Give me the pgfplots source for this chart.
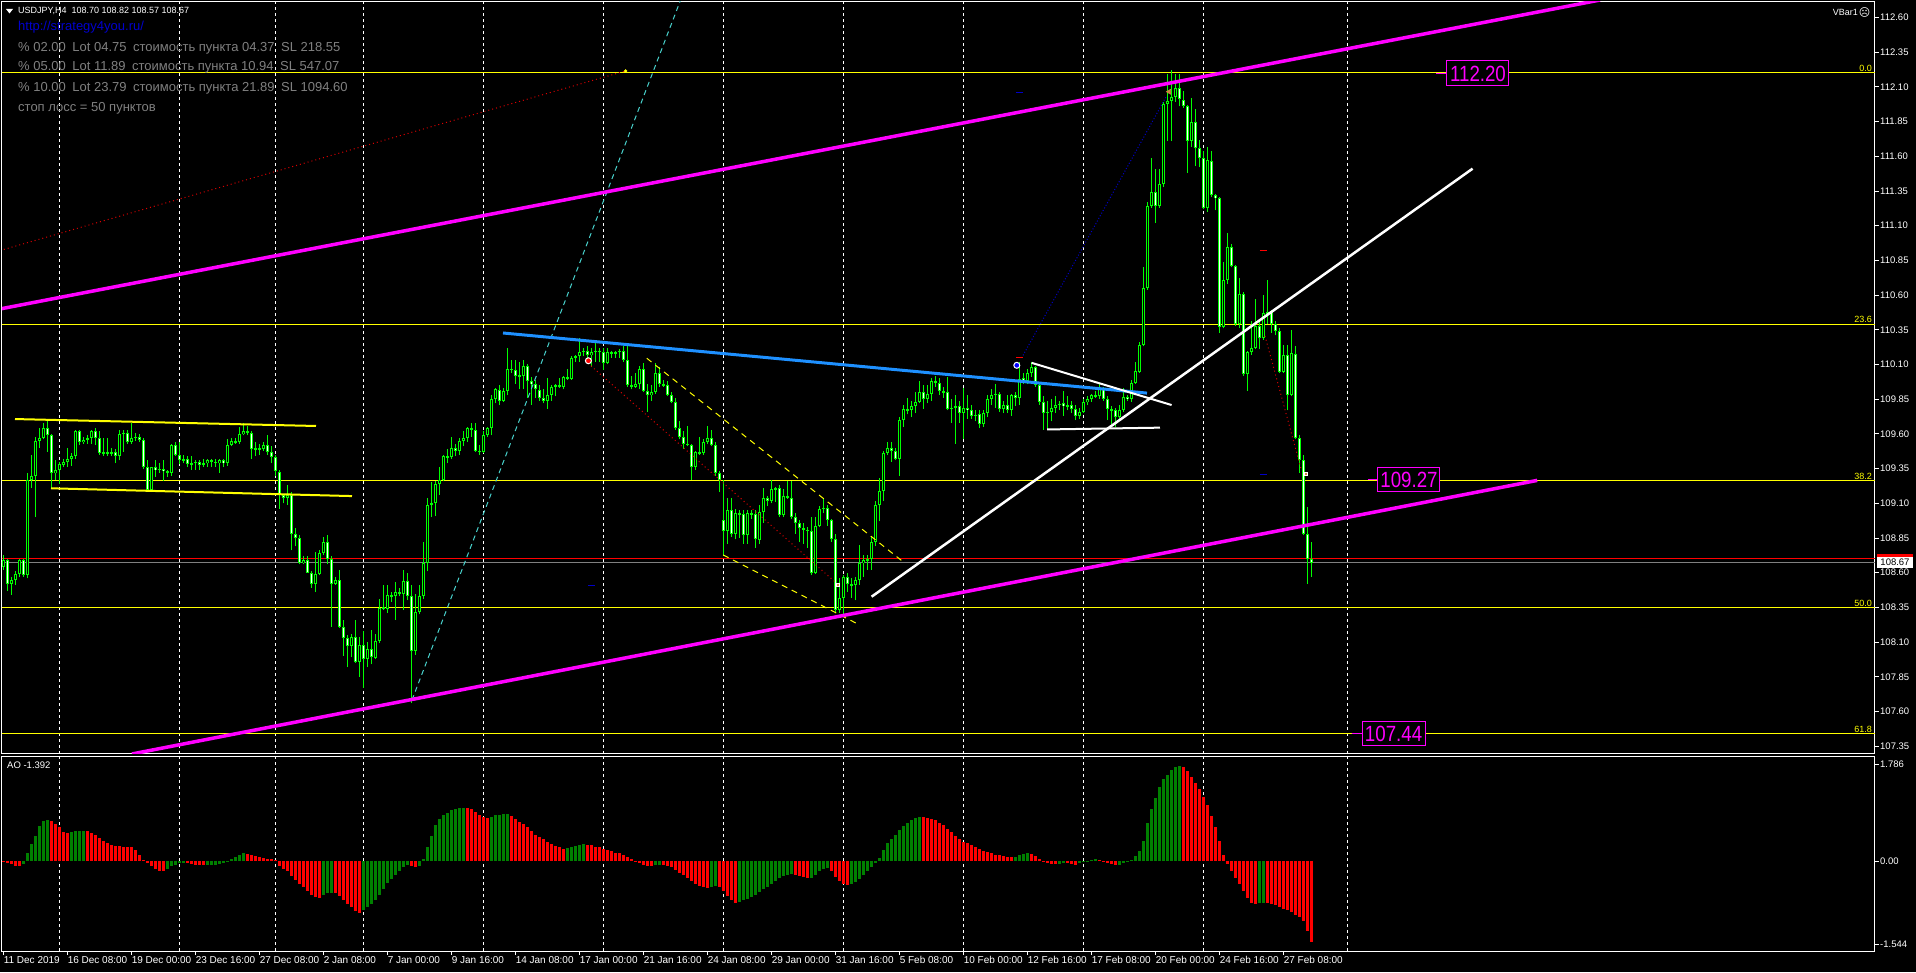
\documentclass[border=0pt]{standalone}
\usepackage{fontspec}
\setmainfont{Liberation Sans}
\newfontfamily\djv{DejaVu Sans}
\newfontfamily\narrowfont[FakeStretch=0.85]{Liberation Sans}
\usepackage{pgfplots}
\usepackage{pgfplotstable}
\pgfplotsset{compat=1.18}
\definecolor{mtlime}{RGB}{0,255,0}
\definecolor{aogreen}{RGB}{0,128,0}
\definecolor{aored}{RGB}{255,0,0}
\definecolor{mag}{RGB}{255,0,255}
\definecolor{fibyel}{RGB}{255,255,0}
\definecolor{dblue}{RGB}{30,144,255}
\definecolor{cyanl}{RGB}{72,209,204}
\definecolor{infogrey}{RGB}{128,128,128}
\definecolor{urlblue}{RGB}{0,0,205}
\definecolor{navyd}{RGB}{0,0,200}
\definecolor{dotred}{RGB}{220,0,0}
\definecolor{mkorange}{RGB}{205,133,63}
\newcommand\fs[1]{\fontsize{#1}{#1}\selectfont}

\pgfplotstableread{
i o h l c
0 108.64 108.73 108.62 108.69
1 108.69 108.70 108.47 108.52
2 108.52 108.57 108.44 108.55
3 108.55 108.61 108.51 108.59
4 108.59 108.70 108.57 108.69
5 108.69 108.70 108.57 108.58
6 108.58 109.32 108.56 109.27
7 109.27 109.45 109.21 109.30
8 109.30 109.58 109.00 109.55
9 109.55 109.64 109.50 109.57
10 109.57 109.68 109.56 109.64
11 109.64 109.70 109.47 109.59
12 109.59 109.60 109.21 109.32
13 109.32 109.41 109.27 109.34
14 109.34 109.40 109.24 109.38
15 109.38 109.42 109.36 109.40
16 109.40 109.50 109.36 109.42
17 109.42 109.46 109.37 109.44
18 109.44 109.63 109.42 109.62
19 109.62 109.63 109.52 109.54
20 109.54 109.58 109.53 109.56
21 109.56 109.59 109.53 109.57
22 109.57 109.63 109.53 109.62
23 109.62 109.64 109.52 109.57
24 109.57 109.62 109.45 109.46
25 109.46 109.57 109.44 109.47
26 109.47 109.57 109.44 109.46
27 109.46 109.50 109.44 109.47
28 109.47 109.49 109.39 109.44
29 109.44 109.63 109.41 109.60
30 109.60 109.63 109.47 109.61
31 109.61 109.63 109.53 109.54
32 109.54 109.68 109.53 109.57
33 109.57 109.61 109.55 109.58
34 109.58 109.60 109.54 109.56
35 109.56 109.57 109.35 109.36
36 109.36 109.41 109.20 109.20
37 109.20 109.36 109.18 109.36
38 109.36 109.41 109.29 109.34
39 109.34 109.39 109.32 109.35
40 109.35 109.41 109.26 109.33
41 109.33 109.34 109.29 109.32
42 109.32 109.53 109.30 109.52
43 109.52 109.54 109.44 109.45
44 109.45 109.54 109.38 109.41
45 109.41 109.45 109.39 109.42
46 109.42 109.44 109.36 109.38
47 109.38 109.44 109.34 109.39
48 109.39 109.41 109.34 109.40
49 109.40 109.41 109.34 109.38
50 109.38 109.42 109.36 109.39
51 109.39 109.42 109.36 109.41
52 109.41 109.42 109.36 109.40
53 109.40 109.42 109.36 109.39
54 109.39 109.42 109.32 109.41
55 109.41 109.42 109.36 109.39
56 109.39 109.56 109.37 109.52
57 109.52 109.57 109.51 109.55
58 109.55 109.57 109.53 109.54
59 109.54 109.65 109.53 109.60
60 109.60 109.68 109.59 109.62
61 109.62 109.66 109.59 109.61
62 109.61 109.62 109.42 109.49
63 109.49 109.54 109.44 109.50
64 109.50 109.53 109.45 109.49
65 109.49 109.54 109.48 109.52
66 109.52 109.59 109.45 109.47
67 109.47 109.51 109.39 109.43
68 109.43 109.45 109.30 109.33
69 109.33 109.34 109.06 109.16
70 109.16 109.17 109.10 109.14
71 109.14 109.23 109.09 109.16
72 109.16 109.18 108.76 108.88
73 108.88 108.92 108.79 108.85
74 108.85 108.87 108.66 108.67
75 108.67 108.72 108.66 108.69
76 108.69 108.72 108.60 108.60
77 108.60 108.61 108.49 108.52
78 108.52 108.75 108.46 108.59
79 108.59 108.76 108.58 108.74
80 108.74 108.86 108.73 108.82
81 108.82 108.87 108.66 108.70
82 108.70 108.72 108.21 108.52
83 108.52 108.57 108.51 108.55
84 108.55 108.62 108.20 108.21
85 108.21 108.26 108.00 108.13
86 108.13 108.15 107.92 108.07
87 108.07 108.16 107.99 108.14
88 108.14 108.26 107.95 107.96
89 107.96 108.14 107.85 108.08
90 108.08 108.18 107.77 107.98
91 107.98 108.10 107.92 108.05
92 108.05 108.19 107.94 107.99
93 107.99 108.16 107.98 108.11
94 108.11 108.41 108.09 108.35
95 108.35 108.51 108.33 108.34
96 108.34 108.51 108.31 108.44
97 108.44 108.46 108.39 108.43
98 108.43 108.53 108.26 108.46
99 108.46 108.49 108.43 108.45
100 108.45 108.62 108.33 108.54
101 108.54 108.60 108.40 108.43
102 108.43 108.51 107.66 108.04
103 108.04 108.45 108.01 108.32
104 108.32 108.51 108.30 108.43
105 108.43 108.82 108.41 108.67
106 108.67 109.14 108.61 109.09
107 109.09 109.25 109.00 109.10
108 109.10 109.26 109.01 109.24
109 109.24 109.36 109.16 109.27
110 109.27 109.45 109.26 109.44
111 109.44 109.49 109.39 109.43
112 109.43 109.58 109.42 109.50
113 109.50 109.53 109.44 109.48
114 109.48 109.57 109.45 109.55
115 109.55 109.62 109.51 109.57
116 109.57 109.65 109.54 109.64
117 109.64 109.68 109.58 109.63
118 109.63 109.68 109.47 109.48
119 109.48 109.52 109.45 109.47
120 109.47 109.62 109.46 109.59
121 109.59 109.65 109.58 109.64
122 109.64 109.88 109.59 109.85
123 109.85 109.93 109.82 109.92
124 109.92 109.95 109.81 109.84
125 109.84 109.93 109.83 109.91
126 109.91 110.22 109.88 110.07
127 110.07 110.13 110.04 110.06
128 110.06 110.13 109.96 110.02
129 110.02 110.12 109.92 110.02
130 110.02 110.13 109.92 110.09
131 110.09 110.10 109.86 109.98
132 109.98 110.01 109.81 109.96
133 109.96 109.99 109.86 109.92
134 109.92 109.95 109.84 109.86
135 109.86 109.92 109.82 109.84
136 109.84 110.00 109.78 109.88
137 109.88 109.95 109.84 109.94
138 109.94 109.96 109.87 109.95
139 109.95 110.00 109.93 109.94
140 109.94 110.02 109.92 110.01
141 110.01 110.07 109.99 110.00
142 110.00 110.16 109.99 110.15
143 110.15 110.17 110.12 110.16
144 110.16 110.29 110.12 110.19
145 110.19 110.22 110.16 110.20
146 110.20 110.23 110.12 110.17
147 110.17 110.22 110.08 110.19
148 110.19 110.26 110.12 110.20
149 110.20 110.22 110.12 110.19
150 110.19 110.22 110.06 110.11
151 110.11 110.22 110.10 110.19
152 110.19 110.20 110.15 110.18
153 110.18 110.20 110.15 110.19
154 110.19 110.21 110.15 110.20
155 110.20 110.23 110.12 110.13
156 110.13 110.23 109.94 109.95
157 109.95 110.02 109.92 109.94
158 109.94 110.04 109.93 109.96
159 109.96 110.09 109.92 110.07
160 110.07 110.11 109.90 109.91
161 109.91 109.96 109.76 109.88
162 109.88 109.95 109.84 109.90
163 109.90 110.11 109.89 110.04
164 110.04 110.08 109.94 109.96
165 109.96 109.99 109.94 109.95
166 109.95 109.98 109.87 109.88
167 109.88 109.90 109.82 109.83
168 109.83 109.86 109.63 109.64
169 109.64 109.69 109.56 109.58
170 109.58 109.62 109.49 109.53
171 109.53 109.66 109.51 109.52
172 109.52 109.53 109.27 109.36
173 109.36 109.48 109.34 109.47
174 109.47 109.58 109.45 109.46
175 109.46 109.56 109.45 109.54
176 109.54 109.66 109.53 109.57
177 109.57 109.63 109.51 109.52
178 109.52 109.54 109.30 109.32
179 109.32 109.33 109.18 109.27
180 108.98 109.27 108.72 108.90
181 108.90 109.14 108.81 109.05
182 109.05 109.14 108.86 108.88
183 108.88 109.06 108.84 109.03
184 109.03 109.05 108.85 109.02
185 109.02 109.05 108.81 108.87
186 108.87 109.05 108.81 109.03
187 109.03 109.05 108.99 109.02
188 109.02 109.05 108.78 108.84
189 108.84 109.09 108.81 109.04
190 109.04 109.21 108.96 109.14
191 109.14 109.15 109.08 109.12
192 109.12 109.27 109.10 109.20
193 109.20 109.22 109.11 109.21
194 109.21 109.23 109.00 109.02
195 109.02 109.20 109.00 109.15
196 109.15 109.26 109.13 109.14
197 109.14 109.26 108.99 109.00
198 109.00 109.03 108.88 108.96
199 108.96 108.98 108.82 108.92
200 108.92 108.96 108.81 108.91
201 108.91 108.93 108.78 108.90
202 108.90 109.00 108.58 108.60
203 108.60 109.00 108.59 108.94
204 108.94 109.08 108.93 109.06
205 109.06 109.14 109.03 109.07
206 109.07 109.09 108.94 108.98
207 108.98 108.99 108.82 108.84
208 108.84 108.88 108.31 108.33
209 108.33 108.56 108.31 108.42
210 108.42 108.58 108.28 108.57
211 108.57 108.60 108.46 108.52
212 108.52 108.56 108.42 108.51
213 108.51 108.57 108.40 108.55
214 108.55 108.80 108.51 108.67
215 108.67 108.73 108.57 108.69
216 108.69 108.73 108.62 108.70
217 108.70 108.86 108.62 108.82
218 108.82 109.12 108.79 109.09
219 109.09 109.28 108.97 109.19
220 109.19 109.48 109.12 109.46
221 109.46 109.54 109.45 109.50
222 109.50 109.54 109.40 109.48
223 109.48 109.50 109.41 109.42
224 109.42 109.72 109.30 109.70
225 109.70 109.81 109.65 109.78
226 109.78 109.86 109.74 109.77
227 109.77 109.84 109.72 109.80
228 109.80 109.90 109.75 109.83
229 109.83 109.98 109.82 109.90
230 109.90 109.95 109.78 109.85
231 109.85 109.95 109.82 109.89
232 109.89 110.00 109.84 109.98
233 109.98 110.02 109.94 109.97
234 109.97 110.00 109.88 109.91
235 109.91 109.94 109.86 109.90
236 109.90 110.01 109.77 109.78
237 109.78 109.85 109.68 109.79
238 109.79 109.88 109.53 109.80
239 109.80 109.84 109.68 109.75
240 109.75 109.93 109.56 109.79
241 109.79 109.88 109.71 109.77
242 109.77 109.81 109.71 109.73
243 109.73 109.77 109.69 109.74
244 109.74 109.77 109.64 109.67
245 109.67 109.77 109.65 109.75
246 109.75 109.88 109.72 109.85
247 109.85 109.92 109.81 109.88
248 109.88 109.96 109.79 109.89
249 109.89 109.90 109.76 109.78
250 109.78 109.84 109.75 109.81
251 109.81 109.88 109.75 109.77
252 109.77 109.89 109.73 109.88
253 109.88 109.90 109.80 109.86
254 109.86 110.12 109.81 110.00
255 110.00 110.04 109.96 109.98
256 109.98 110.07 109.96 110.04
257 110.04 110.12 110.01 110.08
258 110.08 110.09 109.94 109.95
259 109.95 109.97 109.81 109.83
260 109.83 109.87 109.63 109.75
261 109.75 109.84 109.63 109.76
262 109.76 109.85 109.69 109.79
263 109.79 109.87 109.75 109.81
264 109.81 109.84 109.77 109.82
265 109.82 109.91 109.73 109.80
266 109.80 109.87 109.77 109.81
267 109.81 109.84 109.75 109.78
268 109.78 109.81 109.70 109.73
269 109.73 109.79 109.71 109.76
270 109.76 109.85 109.75 109.83
271 109.83 109.87 109.81 109.85
272 109.85 109.89 109.83 109.88
273 109.88 109.91 109.86 109.87
274 109.87 109.96 109.85 109.93
275 109.93 109.94 109.84 109.85
276 109.85 109.87 109.70 109.78
277 109.78 109.80 109.67 109.77
278 109.77 109.79 109.65 109.72
279 109.72 109.81 109.69 109.77
280 109.77 109.93 109.76 109.87
281 109.87 109.88 109.84 109.85
282 109.85 109.99 109.83 109.97
283 109.97 110.12 109.96 110.05
284 110.05 110.26 110.04 110.24
285 110.24 110.80 110.23 110.65
286 110.65 111.27 110.64 111.24
287 111.24 111.59 111.23 111.34
288 111.34 111.51 111.12 111.24
289 111.24 111.51 111.23 111.40
290 111.40 111.99 111.38 111.98
291 111.98 112.19 111.71 112.00
292 112.00 112.22 111.71 112.03
293 112.03 112.19 111.99 112.09
294 112.09 112.19 111.96 112.01
295 112.01 112.07 111.95 111.96
296 111.96 111.97 111.48 111.71
297 111.71 112.02 111.67 111.85
298 111.85 111.94 111.53 111.66
299 111.66 111.72 111.52 111.59
300 111.59 111.64 111.22 111.23
301 111.23 111.67 111.20 111.57
302 111.57 111.64 111.31 111.32
303 111.32 111.33 111.21 111.30
304 111.30 111.31 110.33 110.37
305 110.37 110.84 110.36 110.71
306 110.71 111.05 110.68 110.95
307 110.95 110.97 110.80 110.81
308 110.81 110.82 110.38 110.39
309 110.39 110.72 110.36 110.61
310 110.61 110.62 110.02 110.03
311 110.03 110.20 109.91 110.19
312 110.19 110.41 110.17 110.22
313 110.22 110.57 110.21 110.38
314 110.38 110.43 110.21 110.29
315 110.29 110.60 110.28 110.47
316 110.47 110.71 110.39 110.48
317 110.48 110.49 110.33 110.39
318 110.39 110.41 110.31 110.34
319 110.34 110.36 110.04 110.05
320 110.05 110.24 110.04 110.17
321 110.17 110.24 109.77 109.88
322 109.88 110.35 109.87 110.18
323 110.18 110.23 109.56 109.57
324 109.57 109.59 109.32 109.41
325 109.41 109.45 108.87 108.88
326 108.88 109.07 108.52 108.70
327 108.70 108.82 108.57 108.67
}\candles

\pgfplotstableread{
i g r
0 nan -0.02
1 nan -0.03
2 nan -0.06
3 nan -0.09
4 nan -0.10
5 -0.06 nan
6 0.15 nan
7 0.31 nan
8 0.46 nan
9 0.64 nan
10 0.74 nan
11 0.76 nan
12 nan 0.74
13 nan 0.68
14 nan 0.62
15 nan 0.54
16 nan 0.52
17 0.54 nan
18 0.55 nan
19 0.555 nan
20 0.56 nan
21 nan 0.555
22 nan 0.52
23 nan 0.48
24 nan 0.43
25 nan 0.37
26 nan 0.33
27 nan 0.29
28 nan 0.28
29 nan 0.27
30 nan 0.265
31 nan 0.26
32 nan 0.25
33 nan 0.20
34 nan 0.12
35 nan 0.02
36 nan -0.04
37 nan -0.10
38 nan -0.15
39 nan -0.18
40 nan -0.185
41 -0.14 nan
42 -0.10 nan
43 -0.07 nan
44 -0.04 nan
45 -0.03 nan
46 nan -0.04
47 nan -0.06
48 nan -0.07
49 nan -0.08
50 nan -0.082
51 -0.08 nan
52 -0.075 nan
53 -0.07 nan
54 -0.055 nan
55 -0.04 nan
56 -0.01 nan
57 0.03 nan
58 0.07 nan
59 0.11 nan
60 0.14 nan
61 nan 0.135
62 nan 0.11
63 nan 0.09
64 nan 0.07
65 nan 0.06
66 nan 0.04
67 nan 0.03
68 nan 0.01
69 nan -0.09
70 nan -0.14
71 nan -0.185
72 nan -0.27
73 nan -0.35
74 nan -0.43
75 nan -0.49
76 nan -0.555
77 nan -0.62
78 nan -0.66
79 nan -0.68
80 -0.635 nan
81 -0.60 nan
82 -0.585 nan
83 nan -0.60
84 nan -0.65
85 nan -0.72
86 nan -0.80
87 nan -0.86
88 nan -0.925
89 nan -0.955
90 -0.905 nan
91 -0.86 nan
92 -0.80 nan
93 -0.72 nan
94 -0.62 nan
95 -0.51 nan
96 -0.41 nan
97 -0.33 nan
98 -0.25 nan
99 -0.185 nan
100 -0.12 nan
101 -0.08 nan
102 nan -0.10
103 nan -0.12
104 -0.09 nan
105 0.03 nan
106 0.25 nan
107 0.46 nan
108 0.66 nan
109 0.77 nan
110 0.845 nan
111 0.895 nan
112 0.94 nan
113 0.97 nan
114 0.98 nan
115 0.987 nan
116 nan 0.98
117 nan 0.955
118 nan 0.905
119 nan 0.86
120 nan 0.82
121 nan 0.80
122 0.82 nan
123 0.845 nan
124 0.857 nan
125 0.863 nan
126 0.864 nan
127 nan 0.83
128 nan 0.78
129 nan 0.73
130 nan 0.68
131 nan 0.62
132 nan 0.555
133 nan 0.49
134 nan 0.44
135 nan 0.40
136 nan 0.35
137 nan 0.31
138 nan 0.28
139 nan 0.25
140 nan 0.23
141 0.24 nan
142 0.265 nan
143 0.285 nan
144 0.30 nan
145 0.31 nan
146 nan 0.30
147 nan 0.29
148 nan 0.265
149 nan 0.25
150 nan 0.23
151 nan 0.20
152 nan 0.18
153 nan 0.155
154 nan 0.14
155 nan 0.12
156 nan 0.08
157 nan 0.03
158 nan -0.02
159 nan -0.04
160 nan -0.07
161 nan -0.09
162 nan -0.093
163 -0.08 nan
164 -0.07 nan
165 nan -0.075
166 nan -0.09
167 nan -0.12
168 nan -0.17
169 nan -0.22
170 nan -0.265
171 nan -0.315
172 nan -0.37
173 nan -0.42
174 nan -0.46
175 nan -0.49
176 nan -0.50
177 -0.48 nan
178 -0.46 nan
179 nan -0.475
180 nan -0.555
181 nan -0.65
182 nan -0.72
183 nan -0.77
184 -0.76 nan
185 -0.73 nan
186 -0.70 nan
187 -0.66 nan
188 -0.62 nan
189 -0.57 nan
190 -0.52 nan
191 -0.475 nan
192 -0.43 nan
193 -0.37 nan
194 -0.315 nan
195 -0.28 nan
196 -0.25 nan
197 -0.24 nan
198 nan -0.25
199 nan -0.28
200 nan -0.295
201 nan -0.315
202 -0.31 nan
203 -0.25 nan
204 -0.185 nan
205 -0.14 nan
206 -0.13 nan
207 nan -0.185
208 nan -0.29
209 nan -0.37
210 nan -0.43
211 nan -0.45
212 -0.43 nan
213 -0.39 nan
214 -0.33 nan
215 -0.25 nan
216 -0.185 nan
217 -0.12 nan
218 -0.03 nan
219 0.06 nan
220 0.20 nan
221 0.33 nan
222 0.41 nan
223 0.49 nan
224 0.57 nan
225 0.65 nan
226 0.71 nan
227 0.76 nan
228 0.80 nan
229 0.814 nan
230 nan 0.812
231 nan 0.80
232 nan 0.78
233 nan 0.75
234 nan 0.71
235 nan 0.66
236 nan 0.60
237 nan 0.54
238 nan 0.46
239 nan 0.41
240 nan 0.36
241 nan 0.33
242 nan 0.29
243 nan 0.25
244 nan 0.22
245 nan 0.19
246 nan 0.17
247 nan 0.14
248 nan 0.12
249 nan 0.105
250 nan 0.09
251 nan 0.08
252 nan 0.074
253 0.08 nan
254 0.105 nan
255 0.13 nan
256 0.14 nan
257 nan 0.13
258 nan 0.09
259 nan 0.03
260 nan -0.02
261 nan -0.04
262 nan -0.055
263 nan -0.06
264 -0.05 nan
265 -0.04 nan
266 nan -0.045
267 nan -0.055
268 nan -0.07
269 -0.045 nan
270 -0.02 nan
271 0.005 nan
272 0.02 nan
273 0.03 nan
274 nan 0.02
275 nan -0.005
276 nan -0.03
277 nan -0.055
278 nan -0.08
279 -0.07 nan
280 -0.045 nan
281 -0.02 nan
282 0.02 nan
283 0.09 nan
284 0.185 nan
285 0.37 nan
286 0.71 nan
287 0.955 nan
288 1.17 nan
289 1.36 nan
290 1.51 nan
291 1.60 nan
292 1.68 nan
293 1.74 nan
294 1.76 nan
295 nan 1.73
296 nan 1.665
297 nan 1.56
298 nan 1.45
299 nan 1.33
300 nan 1.19
301 nan 1.03
302 nan 0.83
303 nan 0.62
304 nan 0.37
305 nan 0.12
306 nan -0.06
307 nan -0.185
308 nan -0.31
309 nan -0.43
310 nan -0.555
311 nan -0.68
312 nan -0.77
313 nan -0.80
314 -0.78 nan
315 -0.77 nan
316 nan -0.78
317 nan -0.80
318 nan -0.82
319 nan -0.845
320 nan -0.88
321 nan -0.905
322 nan -0.945
323 nan -0.99
324 nan -1.03
325 nan -1.11
326 nan -1.295
327 nan -1.50
}\aodata

\begin{document}
\begin{tikzpicture}[x=1pt,y=1pt]
\fill[black] (0,0) rectangle (1916,972);
\useasboundingbox (0,0) rectangle (1916,972);

% ===== main price panel =====
\begin{axis}[
  at={(2pt,218pt)}, anchor=south west, scale only axis,
  width=1873pt, height=752.5pt,
  xmin=-0.4, xmax=467.85, ymin=107.2938, ymax=112.7153,
  axis line style={white, line width=1pt},
  clip mode=individual,
  xtick={14,44,68,90,120,150,180,210,240,270,300,336},
  xticklabels={},
  xmajorgrids,
  x grid style={white, line width=0.8pt, dash pattern=on 3pt off 3pt},
  xtick style={draw=none},
  ytick={107.35,107.6,107.85,108.1,108.35,108.6,108.85,109.1,109.35,109.6,109.85,110.1,110.35,110.6,110.85,111.1,111.35,111.6,111.85,112.1,112.35,112.6},
  ytick pos=right, yticklabel pos=right,
  tick align=outside, major tick length=4pt,
  ytick style={white, line width=0.8pt},
  yticklabel style={text=white, font=\fs{9.5}, inner sep=1pt,
    /pgf/number format/fixed, /pgf/number format/fixed zerofill,
    /pgf/number format/precision=2, /pgf/number format/assume math mode=true},
]
% fib / horizontal levels
\addplot[fibyel, line width=1pt] coordinates {(-1,112.205) (470,112.205)};
\addplot[fibyel, line width=1pt] coordinates {(-1,110.39) (470,110.39)};
\addplot[fibyel, line width=1pt] coordinates {(-1,109.262) (470,109.262)};
\addplot[fibyel, line width=1pt] coordinates {(-1,108.346) (470,108.346)};
\addplot[fibyel, line width=1pt] coordinates {(-1,107.438) (470,107.438)};
% current price lines
\addplot[red, line width=1pt] coordinates {(-1,108.70) (470,108.70)};
\addplot[gray, line width=1pt] coordinates {(-1,108.67) (470,108.67)};

% candles: wicks
\addplot[draw=none, mark=none, forget plot,
  error bars/.cd, y dir=plus, y explicit, error mark=none,
  error bar style={draw=mtlime, line width=1pt}]
  table[x=i, y=l, y error expr=\thisrow{h}-\thisrow{l}] {\candles};
% bodies
\addplot[draw=none, mark=none, forget plot,
  error bars/.cd, y dir=both, y explicit, error mark=none,
  error bar style={draw=mtlime, line width=3pt}]
  table[x=i, y expr=(\thisrow{o}+\thisrow{c})/2,
        y error expr={max(abs(\thisrow{c}-\thisrow{o})/2,0.004)}] {\candles};
% bull interiors (black)
\addplot[draw=none, mark=none, forget plot,
  restrict expr to domain={\thisrow{c}-\thisrow{o}}{0.016:100},
  error bars/.cd, y dir=both, y explicit, error mark=none,
  error bar style={draw=black, line width=1pt}]
  table[x=i, y expr=(\thisrow{o}+\thisrow{c})/2,
        y error expr={abs(\thisrow{c}-\thisrow{o})/2-0.0072}] {\candles};
% bear interiors (white)
\addplot[draw=none, mark=none, forget plot,
  restrict expr to domain={\thisrow{c}-\thisrow{o}}{-100:-0.016},
  error bars/.cd, y dir=both, y explicit, error mark=none,
  error bar style={draw=white, line width=1pt}]
  table[x=i, y expr=(\thisrow{o}+\thisrow{c})/2,
        y error expr={abs(\thisrow{c}-\thisrow{o})/2-0.0072}] {\candles};

% yellow flat channel
\addplot[fibyel, line width=2pt] coordinates {(2.85,109.707) (78.1,109.657)};
\addplot[fibyel, line width=2pt] coordinates {(11.85,109.208) (87.1,109.152)};
% yellow dashed descending channel
\addplot[fibyel, line width=1pt, dash pattern=on 6pt off 5pt] coordinates {(160.8,110.145) (225.35,108.668)};
\addplot[fibyel, line width=1pt, dash pattern=on 6pt off 5pt] coordinates {(179.9,108.728) (213.7,108.228)};
% red dotted lines
\addplot[dotred, line width=1pt, dash pattern=on 1pt off 3pt] coordinates {(-0.9,110.921) (155.5,112.215)};
\addplot[dotred, line width=1pt, dash pattern=on 1pt off 3pt] coordinates {(146.1,110.109) (208.7,108.512)};
\addplot[dotred, line width=1pt, dash pattern=on 1pt off 3pt] coordinates {(315.35,110.306) (324.5,109.334)};
\addplot[only marks, mark=*, mark size=1.5pt, mark options={fill=fibyel, draw=fibyel}] coordinates {(155.5,112.215)};
% cyan dashed
\addplot[cyanl, line width=1pt, dash pattern=on 5pt off 4pt] coordinates {(102.1,107.683) (169.25,112.726)};
% blue line
\addplot[dblue, line width=3pt] coordinates {(124.85,110.327) (285.85,109.894)};
% navy dotted
\addplot[navyd, line width=1pt, dash pattern=on 1pt off 2pt] coordinates {(254.5,110.147) (290.8,112.038)};
% white lines
\addplot[white, line width=2.5pt] coordinates {(217.0,108.427) (367.25,111.511)};
\addplot[white, line width=2pt] coordinates {(257.0,110.112) (292.0,109.808)};
\addplot[white, line width=2pt] coordinates {(260.9,109.632) (289.1,109.645)};
% magenta channel
\addplot[mag, line width=3.5pt] coordinates {(-0.9,110.50) (399.1,112.726)};
\addplot[mag, line width=3.5pt] coordinates {(32.1,107.294) (383.4,109.265)};
% small marks
\addplot[navyd, line width=1pt] coordinates {(146.1,108.51) (147.9,108.51)};
\addplot[navyd, line width=1pt] coordinates {(253.1,112.06) (254.9,112.06)};
\addplot[navyd, line width=1pt] coordinates {(314.1,109.311) (315.9,109.311)};
\addplot[red, line width=1pt] coordinates {(314.1,110.918) (315.9,110.918)};
\addplot[red, line width=1pt] coordinates {(253.1,110.147) (254.9,110.147)};
\addplot[only marks, mark=*, mark size=3pt, mark options={fill=red, draw=white, line width=1pt}] coordinates {(146.2,110.127)};
\addplot[only marks, mark=*, mark size=3pt, mark options={fill=blue, draw=white, line width=1pt}] coordinates {(253.3,110.094)};
\addplot[only marks, mark=triangle*, mark size=3pt, mark options={fill=mkorange, draw=mkorange, rotate=90}] coordinates {(291.4,112.065)};
\addplot[only marks, mark=square*, mark size=1.5pt, mark options={fill=mkorange, draw=white}] coordinates {(208.6,108.51) (325.6,109.313)};
% price label connectors
\addplot[mag, line width=1pt] coordinates {(358.1,112.197) (360.8,112.197)};
\addplot[mag, line width=1pt] coordinates {(341.1,109.268) (343.6,109.268)};
\addplot[mag, line width=1pt] coordinates {(337.0,107.438) (339.7,107.438)};

% price label boxes
\node[draw=mag, line width=1pt, fill=black, text=mag, font=\narrowfont\fs{22}, minimum width=62pt, minimum height=25pt, inner sep=0pt] at (axis cs:368.6,112.197) {112.20};
\node[draw=mag, line width=1pt, fill=black, text=mag, font=\narrowfont\fs{22}, minimum width=62pt, minimum height=24pt, inner sep=0pt] at (axis cs:351.35,109.268) {109.27};
\node[draw=mag, line width=1pt, fill=black, text=mag, font=\narrowfont\fs{22}, minimum width=63pt, minimum height=24pt, inner sep=0pt] at (axis cs:347.5,107.438) {107.44};
% fib level labels
\node[anchor=south east, text=fibyel, font=\fs{9}, inner sep=1pt] at (axis cs:467.35,112.205) {0.0};
\node[anchor=south east, text=fibyel, font=\fs{9}, inner sep=1pt] at (axis cs:467.35,110.39) {23.6};
\node[anchor=south east, text=fibyel, font=\fs{9}, inner sep=1pt] at (axis cs:467.35,109.262) {38.2};
\node[anchor=south east, text=fibyel, font=\fs{9}, inner sep=1pt] at (axis cs:467.35,108.346) {50.0};
\node[anchor=south east, text=fibyel, font=\fs{9}, inner sep=1pt] at (axis cs:467.35,107.438) {61.8};
% right price tags (ask tag mostly hidden behind bid tag)
\node[anchor=west, fill=red, inner sep=0pt, minimum height=6pt, minimum width=36pt] at (axis cs:468.3,108.713) {};
\node[anchor=west, fill=white, text=black, font=\fs{9.5}, inner sep=0.5pt, minimum height=11pt, minimum width=36pt] at (axis cs:468.3,108.674) {108.67};
\end{axis}

% ===== AO panel =====
\begin{axis}[
  at={(2pt,21pt)}, anchor=south west, scale only axis,
  width=1873pt, height=194pt,
  xmin=-0.4, xmax=467.85, ymin=-1.6651, ymax=1.9241,
  axis line style={white, line width=1pt},
  clip mode=individual,
  xtick={0,16,...,320},
  xticklabels={11 Dec 2019,16 Dec 08:00,19 Dec 00:00,23 Dec 16:00,27 Dec 08:00,2 Jan 08:00,7 Jan 00:00,9 Jan 16:00,14 Jan 08:00,17 Jan 00:00,21 Jan 16:00,24 Jan 08:00,29 Jan 00:00,31 Jan 16:00,5 Feb 08:00,10 Feb 00:00,12 Feb 16:00,17 Feb 08:00,20 Feb 00:00,24 Feb 16:00,27 Feb 08:00},
  xtick pos=bottom, tick align=outside, major tick length=4pt,
  xtick style={white, line width=0.8pt},
  xticklabel style={anchor=north west, text=white, font=\fs{10}, inner sep=1pt, xshift=-1pt},
  extra x ticks={14,44,68,90,120,150,180,210,240,270,300,336},
  extra x tick labels={},
  extra x tick style={grid=major, major tick length=0pt},
  x grid style={white, line width=0.8pt, dash pattern=on 3pt off 3pt},
  ytick={-1.544,0,1.786}, yticklabels={-1.544,0.00,1.786},
  ytick pos=right, yticklabel pos=right,
  ytick style={white, line width=0.8pt},
  yticklabel style={text=white, font=\fs{9.5}, inner sep=1pt},
]
\addplot[ycomb, aogreen, line width=3pt, mark=none] table[x=i, y=g] {\aodata};
\addplot[ycomb, aored, line width=3pt, mark=none] table[x=i, y=r] {\aodata};
\end{axis}

% ===== texts =====
\fill[white] (6,963) -- (13,963) -- (9.5,958.5) -- cycle;
\node[anchor=base west, text=white, font=\fs{9}, inner sep=0pt] at (18,958.7) {USDJPY,H4\ \ 108.70 108.82 108.57 108.67};
\node[anchor=base west, text=urlblue, font=\fs{13}, inner sep=0pt] at (18,941) {http://strategy4you.ru/};
\node[anchor=base west, text=infogrey, font=\fs{13}, inner sep=0pt] at (18,920.5) {\% 02.00\enspace Lot 04.75\enspace стоимость пункта 04.37\enspace SL 218.55};
\node[anchor=base west, text=infogrey, font=\fs{13}, inner sep=0pt] at (18,901) {\% 05.00\enspace Lot 11.89\enspace стоимость пункта 10.94\enspace SL 547.07};
\node[anchor=base west, text=infogrey, font=\fs{13}, inner sep=0pt] at (18,880.3) {\% 10.00\enspace Lot 23.79\enspace стоимость пункта 21.89\enspace SL 1094.60};
\node[anchor=base west, text=infogrey, font=\fs{13}, inner sep=0pt] at (18,860.3) {стоп лосс = 50 пунктов};
\node[anchor=base east, text=white, font=\fs{9}, inner sep=0pt] at (1858,956) {VBar1};
\node[text=white, font=\djv\fs{11}, inner sep=0pt] at (1864.5,960) {☹};
\node[anchor=base west, text=white, font=\fs{9.5}, inner sep=0pt] at (7,203) {AO -1.392};
\end{tikzpicture}
\end{document}
